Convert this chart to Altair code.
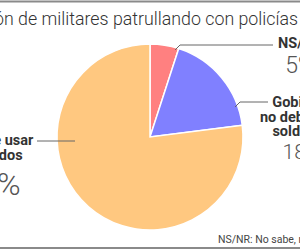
import altair as alt
import pandas as pd

# Survey shares (percent), clockwise from 12 o'clock
categories = ["NS/NR", "Gobierno no debe usar soldados", "Sí debe usar soldados"]
shares = [5, 18, 77]
colors = ["#FF8080", "#8080FF", "#FFC880"]
label_lines = [["NS/NR"], ["Gobierno", "no debe usar", "soldados"], ["Sí debe usar", "soldados"]]
title_text = "Aprobación de militares patrullando con policías"
footnote_text = "NS/NR: No sabe, no respondió"

df = pd.DataFrame({
    "categoria": categories,
    "pct": shares,
    "orden": list(range(len(categories))),
    "nombre": label_lines,
})
one = pd.DataFrame({"k": [0]})

CX, CY, R = 150, 137, 93

pie = alt.Chart(df).mark_arc(radius=R, stroke="white", strokeWidth=1.5).encode(
    theta=alt.Theta("pct:Q", stack=True),
    order=alt.Order("orden:Q"),
    color=alt.Color("categoria:N", scale=alt.Scale(domain=categories, range=colors), legend=None),
    x=alt.value(CX),
    y=alt.value(CY),
)


def name_label(i, x, y):
    return alt.Chart(df).transform_filter(alt.datum.orden == i).mark_text(
        font="Roboto", fontWeight="bold", fontSize=14.5, lineHeight=14.5,
        align="center", baseline="alphabetic", color="#333333",
    ).encode(text="nombre", x=alt.value(x), y=alt.value(y))


def pct_label(i, x, y, size):
    return alt.Chart(df).transform_filter(alt.datum.orden == i).transform_calculate(
        etiqueta="datum.pct + '%'"
    ).mark_text(
        font="Roboto", fontWeight=300, fontSize=size,
        align="center", baseline="alphabetic", color="#555555",
    ).encode(text="etiqueta:N", x=alt.value(x), y=alt.value(y))


def segment(x1, y1, x2, y2, color="#666666", width=1):
    return alt.Chart(one).mark_rule(color=color, strokeWidth=width).encode(
        x=alt.value(x1), y=alt.value(y1), x2=alt.value(x2), y2=alt.value(y2)
    )


title = alt.Chart(one).mark_text(
    font="Roboto", fontWeight=300, fontSize=17.8, align="right",
    baseline="alphabetic", color="#333333", text=title_text,
).encode(x=alt.value(298), y=alt.value(25))

footnote = alt.Chart(one).mark_text(
    font="Roboto", fontSize=10.5, align="left", baseline="alphabetic",
    color="#444444", text=footnote_text,
).encode(x=alt.value(218), y=alt.value(243))

layers = [
    segment(0, 1.5, 300, 1.5, "#8a8a8a", 2),
    title,
    pie,
    # leader lines
    segment(175, 50, 180, 45), segment(180, 45, 273, 45),
    segment(235, 107, 240, 102), segment(240, 102, 268, 102),
    segment(37, 141, 75, 141),
    name_label(0, 300, 48), pct_label(0, 300, 73, 23),
    name_label(1, 302, 107), pct_label(1, 302, 159, 21),
    name_label(2, -7, 145), pct_label(2, -9, 195, 32),
    footnote,
    segment(0, 248, 300, 248, "#8a8a8a", 2),
]

chart = alt.layer(*layers).properties(
    width=300, height=250,
    autosize=alt.AutoSizeParams(type="none"),
    padding=0,
    background="white",
).configure_view(stroke=None)

chart.save("out.html", embed_options={"renderer": "svg", "actions": False})
